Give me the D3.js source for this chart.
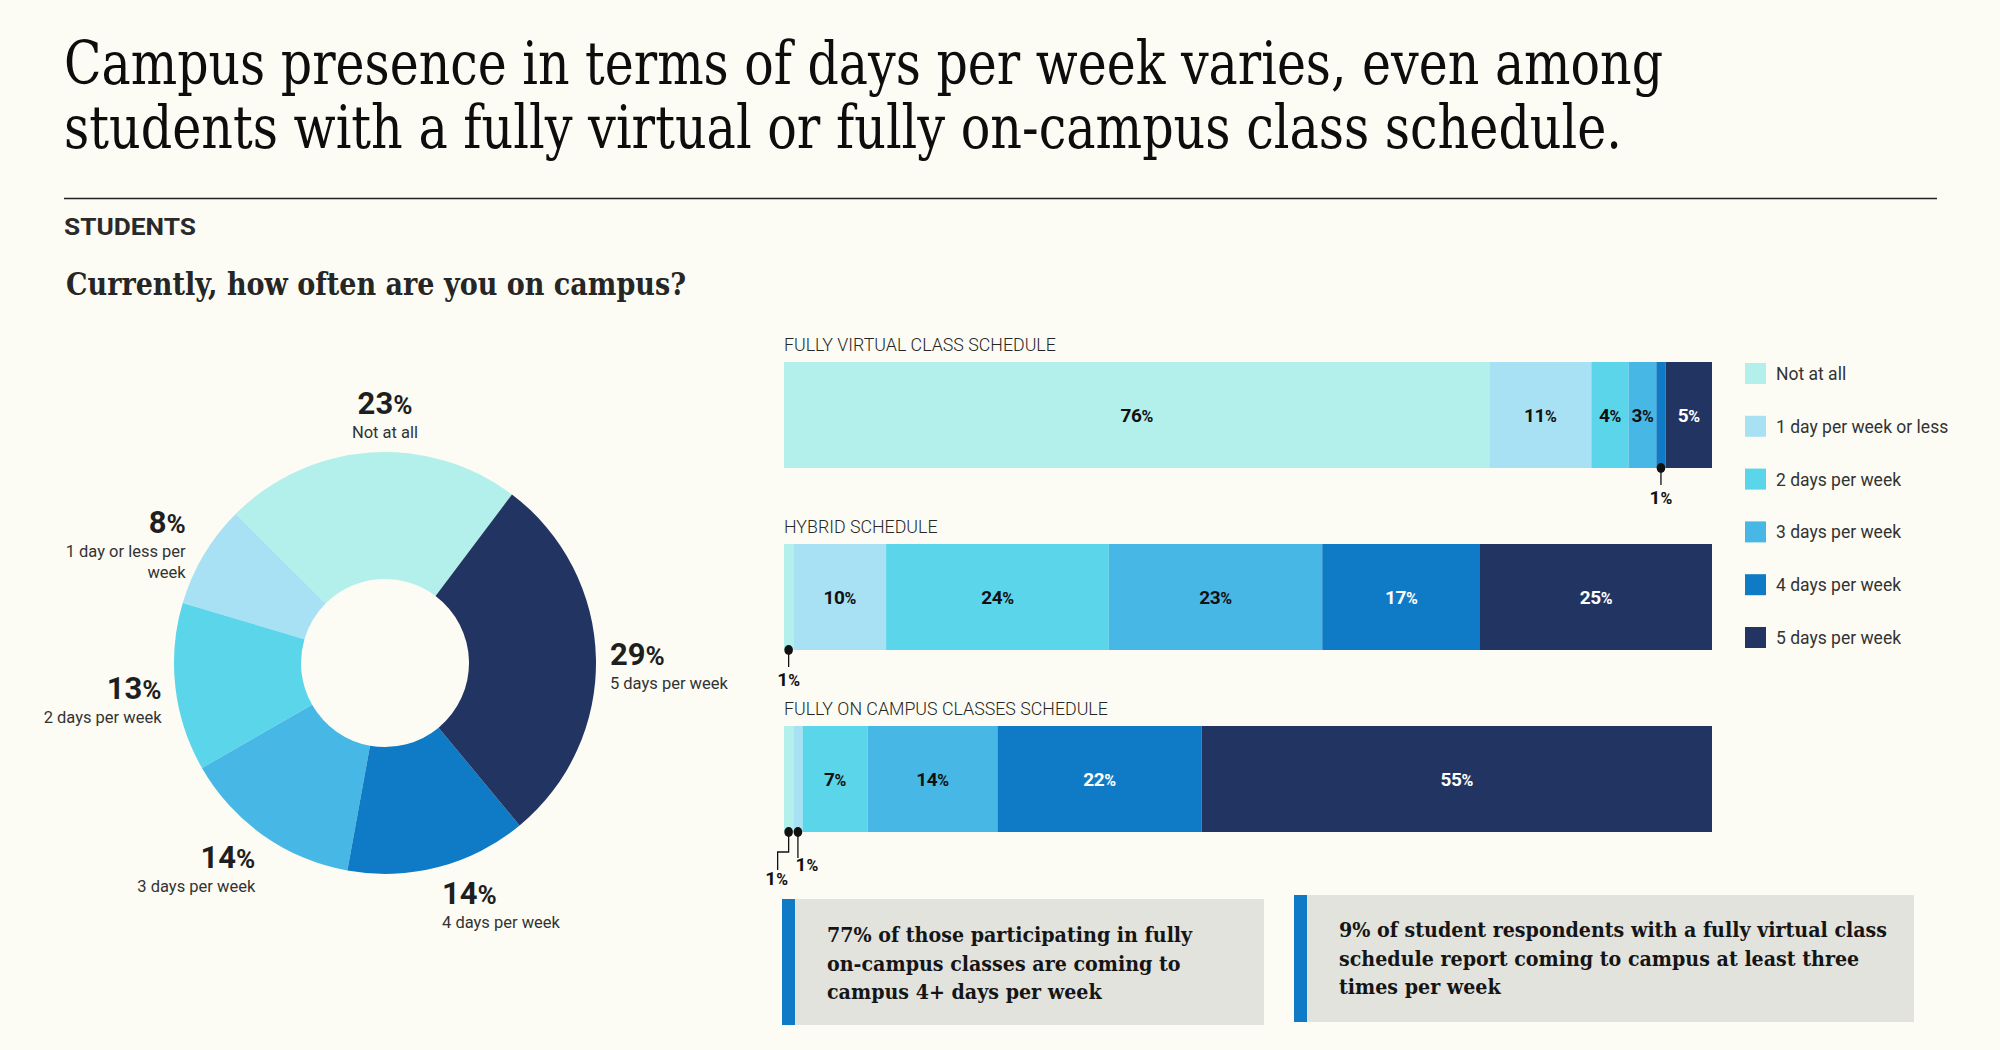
<!DOCTYPE html>
<html>
<head>
<meta charset="utf-8">
<script src="https://cdn.jsdelivr.net/npm/d3@7"></script>
<style>
  body { margin: 0; background: #fcfcf4; }
  svg text { font-family: Roboto, "Open Sans", sans-serif; fill: #1a1a1a; }
</style>
</head>
<body>
<svg id="chart" width="2000" height="1050"></svg>
<script>
// categories, same order everywhere
const categories = ["Not at all", "1 day per week or less", "2 days per week",
  "3 days per week", "4 days per week", "5 days per week"];
const donutLabels = ["Not at all", "1 day or less per\nweek", "2 days per week",
  "3 days per week", "4 days per week", "5 days per week"];
const colors = ["#b3efeb", "#a8e1f4", "#5bd5ea", "#47b8e6", "#0f7bc6", "#223562"];

// overall answers (donut)
const overallValues = [23, 8, 13, 14, 14, 29];

// by class schedule (bars)
const schedules = ["FULLY VIRTUAL CLASS SCHEDULE", "HYBRID SCHEDULE", "FULLY ON CAMPUS CLASSES SCHEDULE"];
const virtualValues = [76, 11, 4, 3, 1, 5];
const hybridValues = [1, 10, 24, 23, 17, 25];
const onCampusValues = [1, 1, 7, 14, 22, 55];

const titleLines = ["Campus presence in terms of days per week varies, even among",
  "students with a fully virtual or fully on-campus class schedule."];
const noteLines = [
  ["77% of those participating in fully", "on-campus classes are coming to", "campus 4+ days per week"],
  ["9% of student respondents with a fully virtual class", "schedule report coming to campus at least three", "times per week"]
];

const serif = "'DejaVu Serif Condensed', 'DejaVu Serif', serif";
const svg = d3.select("#chart");
svg.append("rect").attr("width", 2000).attr("height", 1050).attr("fill", "#fcfcf4");

// writes "23%" with a slightly smaller percent sign
function pct(sel, v) {
  sel.text(null);
  sel.append("tspan").text(v);
  sel.append("tspan").attr("font-size", "0.84em").text("%");
}

// ---- header
svg.selectAll(".title")
  .data(titleLines)
  .enter()
  .append("text")
  .attr("class", "title")
  .attr("x", 64)
  .attr("y", (d, i) => 84 + i * 64)
  .attr("font-size", 59)
  .attr("textLength", (d, i) => (i === 0 ? 1599 : 1558))
  .attr("lengthAdjust", "spacingAndGlyphs")
  .style("font-family", serif)
  .style("fill", "#0d0d0d")
  .text(d => d);

svg.append("line")
  .attr("x1", 64).attr("x2", 1937)
  .attr("y1", 198.5).attr("y2", 198.5)
  .attr("stroke", "#222").attr("stroke-width", 1.3);

svg.append("text")
  .attr("x", 64).attr("y", 235)
  .attr("font-size", 23).attr("font-weight", 700)
  .attr("textLength", 132).attr("lengthAdjust", "spacingAndGlyphs")
  .style("fill", "#2a2a2a")
  .text("STUDENTS");

svg.append("text")
  .attr("x", 66).attr("y", 295)
  .attr("font-size", 31).attr("font-weight", 700)
  .attr("textLength", 620).attr("lengthAdjust", "spacingAndGlyphs")
  .style("font-family", serif)
  .style("fill", "#262626")
  .text("Currently, how often are you on campus?");

// ---- donut
const cx = 385, cy = 663, R = 211, r0 = 84;
const deg = Math.PI / 180;
const pie = d3.pie().sort(null)
  .startAngle(37 * deg).endAngle(37 * deg - 2 * Math.PI);
const arcs = pie(overallValues);
const arc = d3.arc().innerRadius(r0).outerRadius(R);

const donut = svg.append("g").attr("transform", `translate(${cx},${cy})`);
donut.selectAll("path")
  .data(arcs)
  .enter()
  .append("path")
  .attr("d", arc)
  .attr("fill", (d, i) => colors[i]);

donut.selectAll(".dlab")
  .data(arcs)
  .enter()
  .append("g")
  .attr("class", "dlab")
  .each(function (d, i) {
    const a = (d.startAngle + d.endAngle) / 2;
    const lr = R + 14;
    const sx = Math.sin(a), cs = Math.cos(a);
    const anchor = cs > 0.9 ? "middle" : sx >= 0 ? "start" : "end";
    const lines = donutLabels[i].split("\n");
    let px = lr * sx, base;
    if (anchor === "middle") {
      // label block sits right above the ring
      px = 0;
      base = -R - 38;
    } else {
      base = -lr * cs + 8 + 16 * Math.max(0, -cs) - 30 * Math.max(0, cs);
      if (lines.length > 1) { base -= 8; px -= 6; }
    }
    const g = d3.select(this);
    g.append("text")
      .attr("x", px).attr("y", base)
      .attr("text-anchor", anchor)
      .attr("font-size", 31).attr("font-weight", 700)
      .style("fill", "#1f1f1f")
      .call(pct, overallValues[i]);
    lines.forEach((t, k) => {
      g.append("text")
        .attr("x", px).attr("y", base + 24 + k * 21)
        .attr("text-anchor", anchor)
        .attr("font-size", 16.5)
        .style("fill", "#333")
        .text(t);
    });
  });

// ---- stacked bars
const rows = schedules.map((s, i) => {
  const vals = [virtualValues, hybridValues, onCampusValues][i];
  const o = { schedule: s };
  categories.forEach((c, j) => (o[c] = vals[j]));
  return o;
});
const series = d3.stack().keys(categories)(rows);

const x = d3.scaleLinear().domain([0, 100]).range([784, 1712]);
const y = d3.scaleBand().domain(schedules).range([362, 832]).paddingInner(0.4176);
const bw = y.bandwidth();

svg.selectAll(".schedLabel")
  .data(schedules)
  .enter()
  .append("text")
  .attr("class", "schedLabel")
  .attr("x", x(0))
  .attr("y", d => y(d) - 11)
  .attr("font-size", 17.8)
  .attr("font-weight", 300)
  .style("fill", "#262626")
  .text(d => d);

const layer = svg.selectAll(".layer")
  .data(series)
  .enter()
  .append("g")
  .attr("class", "layer")
  .attr("fill", (d, i) => colors[i]);

layer.selectAll("rect")
  .data(d => d)
  .enter()
  .append("rect")
  .attr("x", d => x(d[0]))
  .attr("y", d => y(d.data.schedule))
  .attr("width", d => x(d[1]) - x(d[0]))
  .attr("height", bw);

// values inside the segments
const segs = [];
series.forEach((s, i) => s.forEach(d => segs.push({ i, v: d[1] - d[0], d0: d[0], d1: d[1], schedule: d.data.schedule })));

svg.selectAll(".segLabel")
  .data(segs.filter(s => s.v > 1))
  .enter()
  .append("text")
  .attr("class", "segLabel")
  .attr("x", s => x((s.d0 + s.d1) / 2))
  .attr("y", s => y(s.schedule) + bw / 2 + 7)
  .attr("text-anchor", "middle")
  .attr("font-size", 19).attr("font-weight", 700)
  .attr("letter-spacing", -0.4)
  .style("fill", s => (s.i >= 4 ? "#fff" : "#111"))
  .each(function (s) { d3.select(this).call(pct, s.v); });

// tiny segments get a pin and a label underneath
const small = segs.filter(s => s.v <= 1);
small.forEach(s => {
  const px = x((s.d0 + s.d1) / 2);
  const top = y(s.schedule) + bw;
  const left = small.find(o => o !== s && o.schedule === s.schedule && o.d0 === s.d1);
  const right = small.find(o => o !== s && o.schedule === s.schedule && o.d1 === s.d0);
  let path, tx, ty;
  if (left) {
    path = `M${px},${top}V${top + 20}H${px - 11}V${top + 38}`;
    tx = px - 12; ty = top + 53;
  } else if (right) {
    path = `M${px},${top}V${top + 26}`;
    tx = px + 9; ty = top + 39;
  } else {
    path = `M${px},${top}V${top + 17}`;
    tx = px; ty = top + 36;
  }
  svg.append("path").attr("d", path).attr("fill", "none")
    .attr("stroke", "#111").attr("stroke-width", 1.3);
  svg.append("ellipse").attr("cx", px).attr("cy", top).attr("rx", 4.3).attr("ry", 5)
    .attr("fill", "#111");
  svg.append("text")
    .attr("x", tx).attr("y", ty)
    .attr("text-anchor", "middle")
    .attr("font-size", 19).attr("font-weight", 700)
    .style("fill", "#111")
    .call(pct, s.v);
});

// ---- legend
const ly = d3.scalePoint().domain(categories).range([363, 627]);
const legend = svg.selectAll(".leg")
  .data(categories)
  .enter()
  .append("g")
  .attr("class", "leg")
  .attr("transform", d => `translate(1745,${ly(d)})`);
legend.append("rect").attr("width", 21).attr("height", 21).attr("fill", (d, i) => colors[i]);
legend.append("text")
  .attr("x", 31).attr("y", 17)
  .attr("font-size", 17.5)
  .style("fill", "#333")
  .text(d => d);

// ---- callout notes
const boxes = [
  { x: 782, y: 899, w: 482, h: 126, tx: 827, ty: 942 },
  { x: 1294, y: 895, w: 620, h: 127, tx: 1339, ty: 937 }
];
boxes.forEach((b, i) => {
  svg.append("rect").attr("x", b.x).attr("y", b.y).attr("width", b.w).attr("height", b.h)
    .attr("fill", "#e3e3de");
  svg.append("rect").attr("x", b.x).attr("y", b.y).attr("width", 13).attr("height", b.h)
    .attr("fill", "#0f7bc6");
  svg.append("g")
    .attr("transform", `translate(${b.tx},${b.ty})`)
    .selectAll("text")
    .data(noteLines[i])
    .enter()
    .append("text")
    .attr("x", 0)
    .attr("y", (d, k) => k * 28.5)
    .attr("font-size", 21.2).attr("font-weight", 700)
    .style("font-family", serif)
    .style("fill", "#151515")
    .text(d => d);
});
</script>
</body>
</html>
